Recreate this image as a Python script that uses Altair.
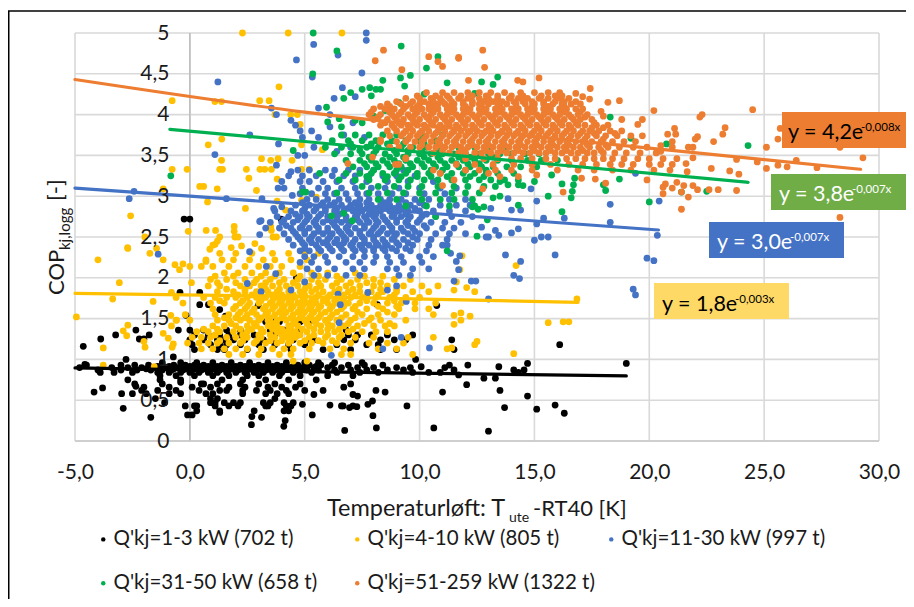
import altair as alt
import pandas as pd

FONT = "Lato"
NAMES = ["Q'kj=1-3 kW (702 t)", "Q'kj=4-10 kW (805 t)", "Q'kj=11-30 kW (997 t)",
         "Q'kj=31-50 kW (658 t)", "Q'kj=51-259 kW (1322 t)"]
COLORS = ["#000000", "#FFC000", "#4472C4", "#00B050", "#ED7D31"]
X_TICKS = [-5, 0, 5, 10, 15, 20, 25, 30]
Y_TICKS = [0, 0.5, 1, 1.5, 2, 2.5, 3, 3.5, 4, 4.5, 5]

black_rows = [
 (0.96, [-1.2,-0.4,0.3,1.0,1.8,2.6,3.4,4.2,5.0,5.6,6.3,7.5]),
 (0.93, [-4.5,-3.0,-2.4,-1.8,-1.2,-0.7,-0.2,0.2,0.6,1.0,1.4,1.8,2.2,2.6,3.0,3.4,3.8,4.2,4.7,5.2,5.7,6.2,6.9,7.6,8.4]),
 (0.915, [-1.4,-0.9,-0.4,0.0,0.5,0.8,1.2,1.6,2.0,2.4,2.8,3.2,3.6,4.0,4.5,5.0,5.5]),
 (0.90, [-4.8,-3.4,-2.7,-2.1,-1.5,-1.0,-0.5,-0.1,0.3,0.7,1.1,1.5,1.9,2.3,2.7,3.1,3.5,3.9,4.4,4.9,5.4,6.0,6.6,7.3,8.0,9.0,9.6]),
 (0.885, [-1.9,-0.7,-0.2,0.2,0.6,1.0,1.4,1.8,2.2,2.6,3.0,3.4,3.8,4.2,4.8]),
 (0.87, [-4.0,-3.0,-2.3,-1.7,-1.2,-0.8,-0.3,0.1,0.5,0.9,1.3,1.7,2.1,2.5,2.9,3.3,3.7,4.1,4.6,5.1,5.6,6.3,7.0,7.7,8.6,9.3]),
 (0.84, [-3.9,-3.3,-2.5,-1.4,-0.9,-0.4,0.0,0.4,0.8,1.2,1.6,2.0,2.4,2.8,3.2,3.6,4.0,4.5,5.3,6.4,7.4,8.2,9.7,10.4]),
 (0.80, [-1.3,-0.6,0.2,1.0,1.7,2.5,3.0,3.9,4.8,6.0,7.1]),
 (0.75, [-2.7,-1.3,-0.4,1.4,2.3,3.3,4.3,5.5]),
 (0.70, [-2.4,-1.2,0.6,1.2,2.2,3.0,3.7,4.8,7.0]),
 (0.66, [-2.0,-0.9,0.1,0.9,1.7,2.4,3.4,4.0,4.6,6.7]),
 (0.62, [-2.1,-1.4,-0.6,0.4,1.3,1.6,2.3,2.9,3.5,4.2,5.0]),
 (0.58, [-1.9,-0.9,-0.4,0.7,1.0,2.3,3.3,3.8,4.3]),
 (0.52, [-1.5,0.9,1.2,3.7]),
 (0.47, [-1.1,0.9,1.1,1.5,1.9,2.2,3.2,3.5,4.1,4.5]),
 (0.43, [-0.2,0.2,0.3,1.1,1.7,2.1,3.3,3.4,4.2,4.4,6.6,7.1]),
 (0.37, [0.3,1.3,2.8,4.1,4.3]),
 (1.12, [0.2,1.2,1.5,2.5,3.2,4.4,5.8,7.0,8.3,9.0,11.5]),
 (1.18, [0.1,0.9,1.3,1.6,2.2,3.0,3.7,4.3,5.0,6.4,7.7,8.2]),
 (1.24, [0.0,0.6,1.2,1.5,1.9,2.4,3.2,3.6,4.5,5.2,5.4,6.7,7.2,8.3,8.9,9.4,11.4]),
 (1.30, [0.2,0.8,1.3,1.7,2.2,2.8,3.7,4.7,6.9,7.3,7.9,8.6,9.7]),
 (1.36, [-0.5,0.0,0.6,1.6,2.2,3.5,4.1,4.8,6.8]),
 (1.46, [3.3,3.7,3.9,4.8,5.2]),
]
black_extra = [(19,0.95),(16.1,1.18),(14.7,0.95),(12.1,0.93),(13.45,0.91),(14.1,0.87),(14.3,0.84),(14.55,0.87),
 (12.8,0.77),(13.3,0.77),(12.05,0.69),(13.5,0.62),(14.7,0.55),(13.7,0.41),(15.1,0.39),(15.9,0.44),(16.3,0.34),(13,0.12),
 (11.3,0.93),(11.5,0.87),(11.7,0.81),(11.1,0.9),(10.9,0.84),
 (-4.64,1.16),(-3.88,1.25),(-3.23,1.3),(-2.35,1.36),(-2.2,1.25),(-2.0,1.25),(-1.77,1.3),(-2.78,1.0),(-0.72,1.03),(-4.57,0.94),
 (-0.43,1.82),(0.43,1.82),(0.43,1.67),(0.81,1.67),(-0.17,1.54),(1.3,1.61),(1.55,1.53),(2.97,1.66),(4.64,2.0),(8.16,1.67),(10.75,1.66),
 (-4.17,0.6),(-3.8,0.65),(-2.97,0.58),(-2.5,0.58),(-2.35,0.67),(-2.9,0.4),(-1.7,0.29),(2.68,0.2),(3.12,0.29),(4.09,0.18),(4.15,0.25),
 (5.33,0.32),(6.74,0.13),(8.12,0.16),(7.97,0.31),(10.62,0.16),(11,0.6),(9.45,0.43),(8.5,0.6),(8.1,0.62),(7.1,0.57),(7.3,0.55),(7.95,0.49),(7.75,0.45),(7.27,0.42),
 (6.95,0.41),(6.67,0.43),(6.1,0.44),(5.8,0.62),(5.4,0.57),(4.9,0.45),(9.83,1.0),(10.07,0.91),(-0.1,0.32),(0.1,0.32),(1.3,0.35),(2.7,0.3),
 (-0.25,2.72),(0.0,2.72),(3.97,2.72),(-0.4,0.72),(0.5,0.7)]

yellow_rows = [
 (2.30, [1.3,2.0,2.7,3.6,4.3,5.0,5.6]),
 (2.22, [0.7,1.4,1.9,2.6,3.2,3.7,4.4,5.1]),
 (2.14, [0.5,1.0,1.7,2.4,3.0,3.5,4.0,4.8]),
 (2.06, [1.5,2.1,2.7,3.3,3.9,4.5,5.3,6.0,7.2]),
 (2.02, [1.1,1.9,3.1,3.7,4.8,5.6,6.4,7.6,8.4]),
 (1.98, [0.9,1.6,2.4,2.9,3.5,4.1,4.7,5.3,5.9,6.6,7.3,8.0,8.9,9.6]),
 (1.94, [1.2,2.0,2.8,3.3,3.9,4.5,5.0,5.6,6.4,7.0,7.7,8.3]),
 (1.90, [0.8,1.3,2.2,2.6,3.1,3.6,4.2,4.7,5.2,5.7,6.2,6.8,7.4,8.0,8.6,9.3,10.1,10.8]),
 (1.86, [1.6,2.4,3.3,3.9,4.4,5.0,5.5,6.5,7.1,8.3,9.0]),
 (1.83, [1.2,1.9,2.4,2.9,3.4,3.8,4.3,4.8,5.3,5.8,6.3,6.9,7.4,7.9,8.4,9.0,9.7,10.4]),
 (1.79, [2.1,2.7,3.1,3.6,4.0,4.5,5.0,5.6,6.1,6.7,7.2,7.7,8.2,8.9]),
 (1.76, [-0.6,0.6,1.1,1.6,2.0,2.5,2.9,3.3,3.8,4.2,4.6,5.0,5.5,6.0,6.5,7.0,7.5,8.1,8.7,9.4,10.0]),
 (1.72, [1.3,2.3,3.1,3.6,4.0,4.4,4.9,5.3,5.8,6.3,6.7,7.7,8.9]),
 (1.69, [-0.3,0.9,1.5,2.2,2.6,3.0,3.5,3.9,4.3,4.7,5.1,5.5,6.0,6.4,6.9,7.4,8.0,8.6,9.2,9.8,10.7]),
 (1.65, [2.0,2.5,3.3,3.7,4.1,4.5,4.9,5.3,5.7,6.2,6.7,7.2,8.2,9.0]),
 (1.62, [1.0,1.9,2.4,2.8,3.2,3.6,4.0,4.4,4.8,5.2,5.6,6.1,6.6,7.1,7.7,8.4,9.1,9.8,10.4]),
 (1.58, [2.2,2.7,3.4,3.9,4.2,4.7,5.0,5.4,5.9,6.4,7.3,8.6]),
 (1.55, [-0.2,1.1,1.7,2.1,2.5,2.9,3.3,3.7,4.1,4.5,4.9,5.3,5.7,6.2,6.8,7.5,8.2,8.9,10.6]),
 (1.51, [1.5,2.0,2.4,3.1,3.5,4.0,4.4,4.8,5.2,5.6,6.1,6.6,7.2,7.9]),
 (1.48, [-0.6,0.0,1.2,1.7,2.2,2.6,3.0,3.4,3.8,4.2,4.6,5.0,5.4,5.9,6.4,7.0,7.8,8.3,9.4]),
 (1.44, [1.8,2.8,3.6,4.5,5.1,5.5,6.0,6.9,7.6,8.7]),
 (1.41, [-0.8,1.0,1.5,2.0,2.5,2.9,3.4,3.8,4.3,4.7,5.2,5.7,6.2,6.7,7.3,8.0,8.5,8.9]),
 (1.37, [0.6,1.2,2.2,2.7,3.1,3.6,4.0,4.4,4.9,5.4,6.0,6.5,7.1]),
 (1.34, [0.3,0.8,1.3,1.9,2.5,3.2,3.8,4.2,4.6,5.1,5.7,6.3,6.9,7.5,8.1,8.6]),
 (1.30, [1.1,2.3,3.0,3.5,4.0,4.4,4.8,5.4,6.0,6.6]),
 (1.27, [0.1,0.5,0.9,1.6,2.0,2.5,3.1,3.7,4.2,4.6,5.2,5.9,6.5,7.2,8.0,9.5,10.6]),
 (1.23, [1.3,2.3,2.9,3.5,4.0,4.4,5.0,5.6,6.2]),
 (1.20, [-0.1,0.4,0.8,1.2,1.7,2.2,2.8,3.3,3.8,4.3,4.8,5.3,5.8,6.4,7.0,7.8,8.6,9.3]),
 (1.13, [0.5,1.0,1.5,2.0,2.5,3.1,3.6,4.1,4.5,5.2,6.1,6.7,8.2,9.0,11.2]),
 (1.06, [1.7,2.3,3.0,3.9,4.4,6.6,7.0,9.7]),
 (0.98, [4.5,5.1]),
]
yellow_extra = [(-4.94,1.52),(-4.0,2.22),(-3.36,1.74),(-3.07,1.94),(-3.77,1.14),(-3.77,0.93),(-2.9,1.35),(-2.7,1.42),(-2.75,1.29),(-2.7,2.36),
 (-2,1.22),(-1.95,1.15),(-1.6,1.71),(-1.16,1.32),(-1.55,0.91),(-0.83,1.54),(-0.77,1.15),(-0.72,1.19),(-0.94,1.26),(-0.58,1.48),
 (-1.74,2.3),(-1.16,2.22),(-0.65,2.16),(-0.3,2.17),(0.0,2.14),(-0.45,2.1),(-0.8,1.82),(0.07,1.94),(0.7,2.2),(1.0,2.4),(1.2,2.45),
 (2.29,5),(4.28,5),(6.62,5),(3.88,4.34),(-0.77,4.17),(1.09,4.16),(1.38,4.16),(3.04,4.17),(3.45,4.17),(3.7,4.0),(4.39,4.0),(4.68,4.0),(4.8,3.88),
 (0.8,3.63),(1.39,3.7),(4.86,3.63),(5.77,3.57),(3.12,3.46),(3.52,3.44),(3.84,3.46),(4.45,3.44),(1.38,3.44),(-0.77,3.33),(-0.12,3.33),(1.3,3.33),(1.42,3.33),
 (2.46,3.33),(3.05,3.33),(3.26,3.33),(3.55,3.33),(4.86,3.33),(5.2,3.33),(2.57,3.22),(3.8,3.21),(0.43,3.12),(0.6,3.12),(1.19,3.09),(2.9,3.07),(-1.16,3.09),
 (0.77,2.93),(2.42,2.85),(3.8,2.94),(4.86,2.95),(4.17,2.83),(-2.58,2.76),(5.5,2.99),(-0.07,2.57),(0.71,2.58),(1.12,2.58),(1.93,2.63),(1.93,2.57),(1.96,2.5),(2.1,2.5),
 (1.3,2.5),(3.52,2.63),(3.55,2.58),(3.62,2.5),(3.77,2.5),(-1.96,2.5),(-2.71,2.37),(-1.45,2.36),(1.1,2.41),(0.87,2.35),(1.8,2.37),(2.25,2.39),(2.83,2.42),(3.12,2.36),
 (14.2,2.15),(11.85,2.27),(11.75,2.1),(11.6,1.95),(11.5,1.85),(12.05,1.88),(12.4,1.83),(16.85,1.74),(15.6,1.45),(16.25,1.46),(16.5,1.46),(11.5,1.54),(11.8,1.57),
 (12.2,1.53),(11.8,1.48),(11.5,1.43),(12.5,1.22),(12.4,1.18),(14.1,1.07),(11.4,1.14)]

blue_rows = [
 (3.32, [4.7,5.2,5.9,6.3,6.9,7.4,8.0,9.3]),
 (3.25, [4.3,4.9,5.5,6.2,6.7,7.2,7.8,8.4,9.0,9.8]),
 (3.18, [4.0,4.8,5.2,5.8,6.4,7.1,7.7,8.6,9.5,10.6]),
 (3.10, [4.1,4.9,5.6,6.0,6.6,7.2,7.9,8.5,9.1,10.0,10.9,11.6]),
 (3.03, [4.8,5.3,5.9,6.3,6.8,7.3,7.7,8.2,8.8,9.4,10.2,11.1]),
 (2.96, [5.1,5.5,6.0,6.5,6.9,7.4,7.8,8.3,8.7,9.2,9.8,10.4,11.3,12.0]),
 (2.92, [4.9,5.8,6.3,7.2,7.7,8.5,9.4,10.0]),
 (2.89, [4.6,5.2,5.7,6.1,6.6,7.0,7.4,7.9,8.3,8.7,9.1,9.6,10.2,10.9,11.6,12.2]),
 (2.85, [5.0,5.5,5.9,6.4,6.9,7.3,7.7,8.1,8.5,8.9,9.3,9.8]),
 (2.82, [4.4,4.9,5.4,5.9,6.3,6.7,7.1,7.5,7.9,8.3,8.7,9.1,9.5,10.0,10.6,11.3,12.0]),
 (2.78, [4.6,5.1,5.7,6.5,7.3,7.8,8.1,8.9,9.4,10.3]),
 (2.75, [3.8,4.3,4.8,5.2,5.6,6.0,6.4,6.8,7.2,7.6,8.0,8.4,8.8,9.2,9.6,10.1,10.7,11.4,12.3]),
 (2.71, [4.1,4.7,5.1,5.5,6.0,6.4,6.8,7.3,7.7,8.1,8.5,9.0,9.5,10.0]),
 (2.68, [3.5,4.0,4.5,5.0,5.4,5.8,6.2,6.6,7.0,7.4,7.8,8.2,8.6,9.0,9.4,9.9,10.5,11.1,11.8]),
 (2.64, [4.2,4.9,5.5,6.3,6.9,7.6,8.1,8.7,9.5,10.2]),
 (2.61, [3.3,3.9,4.4,4.8,5.2,5.6,6.0,6.4,6.8,7.2,7.6,8.0,8.4,8.8,9.2,9.7,10.3,11.0,11.5]),
 (2.57, [4.5,5.0,5.6,6.0,6.5,6.9,7.4,7.9,8.3,8.8,9.3,9.8]),
 (2.54, [4.1,4.6,5.0,5.4,5.8,6.2,6.6,7.0,7.4,7.8,8.2,8.6,9.0,9.5,10.0,10.7,11.3,12.0]),
 (2.50, [4.7,5.3,6.1,6.7,7.5,8.0,8.9,9.7]),
 (2.47, [4.3,4.8,5.2,5.6,6.0,6.4,6.8,7.2,7.6,8.0,8.4,8.8,9.3,9.9,10.5,11.2]),
 (2.43, [4.9,5.3,5.8,6.3,6.7,7.1,7.6,8.1,8.5,9.0,9.5]),
 (2.40, [4.5,5.0,5.5,6.0,6.5,7.0,7.4,7.8,8.2,8.6,9.1,9.7,10.4,11.0]),
 (2.36, [5.0,5.6,6.1,6.6,7.1,7.5,8.0,8.4,8.8,9.4]),
 (2.33, [4.8,5.2,5.7,6.2,6.7,7.2,7.6,8.0,8.5,9.0,9.6,10.3]),
 (2.26, [5.0,5.4,5.9,6.5,7.1,7.6,8.1,8.6,9.2,10.0,10.6]),
 (2.19, [4.8,5.3,6.0,6.8,7.4,8.0,8.7,9.3,10.1]),
 (2.11, [5.1,5.6,6.3,7.1,7.6,8.6,9.0,9.7,10.4]),
 (2.03, [5.4,6.0,6.8,7.4,9.1,9.6]),
]
blue_extra = [(7.68,5),(7.68,4.91),(5.39,4.86),(6.45,4.73),(4.64,4.67),(1.22,4.4),(5.33,4.46),(7.49,4.51),(6.64,4.33),(6.28,4.2),(7.2,4.22),
 (3.55,4.08),(3.77,4.0),(4.4,3.93),(2.61,3.75),(3.86,3.64),(1.09,3.51),(3.77,3.38),(-2.43,3.06),(-2.64,2.97),(1.59,2.97),(3.14,2.97),(3.84,3.1),(4.46,3.01),
 (3.65,2.85),(3.7,2.82),(4.0,2.87),(3.04,2.69),(3.1,2.7),(3.04,2.53),(4.6,3.87),(4.8,3.8),(4.9,3.72),(5.3,3.8),(5.6,3.72),(6.1,3.85),(6.7,3.75),(7.1,3.9),(5.4,3.6),(4.7,3.5),(5.0,3.5),(4.4,3.3),(6.4,3.55),(7.0,3.6),(7.6,3.72),(6.1,4.0),(5.6,4.08),
 (20.43,2.94),(20.35,2.52),(18.3,2.9),(18.3,2.68),(15.4,2.73),(15.1,2.66),(15.1,2.94),(14.85,3.09),(16.3,2.73),(15.6,2.5),(15.3,2.5),(15,2.46),(14.3,2.6),(14,2.55),
 (13.85,2.97),(14,2.83),(14.4,2.83),(13.1,2.85),(13.3,2.58),(13.45,2.52),(13,2.5),(12.7,2.62),(12.9,2.5),(12.3,2.9),(19.4,3.28),
 (13.74,2.28),(15.9,2.28),(14.4,2.2),(14.1,2.03),(14.35,1.99),(19.9,2.24),(20.2,2.21),(19.3,1.86),(19.4,1.79),(12.25,1.96),(12.45,1.96),(13,1.74),(11.5,1.96),
 (11.7,2.1),(11.6,2.2),(11.75,2.27),(11.2,2.4),(11.35,2.3),(-1.38,2.29),(2.6,2.32),(3.33,2.14),(2.5,1.93),(3.1,1.83),(3.74,2.05),(6.55,1.67),(6.5,1.45),(6.16,1.05),
 (8.4,1.13),(9.2,1.27),(10.43,1.14),(9.42,1.71),(7.75,1.82),(8.6,1.85),(6.45,1.8),(5.0,1.95),(4.4,1.85),(9.0,1.9)]

green_rows = [
 (3.75, [6.6,7.2,7.8,8.4,9.0,10.1,11.0]),
 (3.68, [6.2,6.9,7.5,8.1,8.8,9.4,10.0,10.7]),
 (3.64, [7.0,7.9,8.6,9.3,10.2]),
 (3.60, [5.9,6.6,7.1,7.7,8.2,8.7,9.2,9.7,10.3,11.0,11.7,12.4,13.1,13.8]),
 (3.56, [7.4,8.1,8.9,9.5,10.1,10.8]),
 (3.52, [6.3,7.0,7.5,8.0,8.5,9.0,9.5,10.0,10.5,11.0,11.5,12.0,12.5,13.0,13.5,14.0,14.6,15.2]),
 (3.48, [7.8,8.7,9.3,10.2,10.8,11.7,12.2,13.2]),
 (3.44, [6.8,7.4,7.9,8.4,8.9,9.4,9.9,10.4,10.9,11.4,11.9,12.4,12.9,13.4,14.0,14.7,15.3,16.0]),
 (3.40, [7.6,8.1,8.6,9.1,9.6,10.1,10.6,11.1,11.6,12.1,12.6]),
 (3.36, [7.1,7.7,8.2,8.7,9.2,9.7,10.2,10.7,11.2,11.7,12.2,12.7,13.2,13.8,14.4,15.1]),
 (3.32, [8.0,9.0,9.5,10.5,11.0,12.0,12.9]),
 (3.28, [6.8,7.4,7.9,8.4,8.9,9.4,9.9,10.4,10.9,11.4,11.9,12.4,12.9,13.4,14.1]),
 (3.24, [7.7,8.6,9.2,9.9,10.5,11.2,12.2,12.8]),
 (3.20, [6.5,7.2,7.8,8.5,9.1,9.6,10.2,10.8,11.4,12.0,12.6,13.1,13.7,14.3]),
 (3.12, [7.5,8.2,8.9,9.5,10.1,10.8,11.5,12.1,12.8,13.3]),
 (3.04, [6.4,7.8,8.6,9.3,10.0,10.7,11.4,12.0,12.6]),
 (2.96, [8.2,9.0,10.1,10.9,11.5,12.3]),
 (2.88, [9.4,10.3,11.3,12.4]),
]
green_extra = [(5.37,5),(9.2,4.84),(6.4,4.78),(10.8,4.71),(10.3,4.57),(5.35,4.5),(9.6,4.48),(8.4,4.42),(9.17,4.45),(7.83,4.33),(7.5,4.31),(7.9,4.23),(8.1,4.31),(8.3,4.31),
 (6.7,4.2),(7.0,4.27),(9.35,4.35),(10.2,4.25),(11.2,4.39),(12.7,4.40),(13.4,4.46),(13.2,4.37),(12.4,4.26),(12.9,4.17),(18.3,3.97),(19.2,3.71),(20.75,3.64),(24.3,3.62),
 (22.5,3.06),(21.4,3.05),(20.0,2.93),(18.1,3.07),(18,3.14),(18.7,3.21),(16.6,2.98),(16.65,3.06),(16.7,3.14),(16.75,3.22),(16.2,3.15),(15.6,3.0),(16.2,2.81),(15.75,3.26),
 (15.0,3.18),(14.5,3.13),(14.3,3.14),(13.85,3.14),(13.5,3.18),(14.3,2.89),(13.5,3.0),(13.2,2.98),(12.8,2.87),(12.55,2.84),(12.3,2.87),(12.95,2.71),(12.5,2.51),(11.2,2.33),
 (-0.83,3.25),(4.5,3.56),(4.9,3.05),(5.05,3.05),(5.65,3.28),(6.0,3.91),(5.95,4.09),(6.5,3.95),(6.6,3.85),(7.5,3.9),(7.2,3.93),(8.0,3.98),(8.5,4.05),(9.1,4.15),(6.17,2.76),(6.7,2.79),(7.07,2.7),(10.7,2.75)]

orange_rows = [
 (4.27, [10.3,11.0,11.5,12.1,12.6,13.1,13.7,14.4,15.0,15.6,16.1]),
 (4.23, [9.9,10.7,11.2,11.8,12.3,12.9,13.4,14.0,14.5,15.3,15.9]),
 (4.20, [9.4,10.0,10.5,10.9,11.3,11.7,12.1,12.6,13.0,13.4,13.9,14.3,14.7,15.2,15.6,16.1,16.5]),
 (4.16, [9.0,9.7,10.2,10.6,11.0,11.4,11.9,12.3,12.8,13.2,13.6,14.1,14.5,14.9,15.4,15.9,16.3,16.8]),
 (4.13, [8.6,9.2,9.6,10.0,10.4,10.8,11.1,11.5,11.9,12.3,12.6,13.0,13.4,13.8,14.2,14.6,15.0,15.4,15.8,16.2,16.6,17.0]),
 (4.10, [8.3,8.7,9.4,9.9,10.6,11.3,12.0,12.7,13.5,14.2,14.9,15.6,16.3]),
 (4.07, [8.0,8.5,8.9,9.3,9.7,10.1,10.4,10.8,11.2,11.5,11.9,12.2,12.6,12.9,13.3,13.6,14.0,14.3,14.7,15.0,15.4,15.7,16.1,16.4,16.8,17.1]),
 (4.03, [7.9,8.7,9.2,9.9,10.6,11.4,12.1,12.8,13.5,14.2,14.9,15.6,16.3,17.0]),
 (4.00, [7.8,8.3,8.8,9.1,9.5,9.8,10.2,10.5,10.9,11.2,11.6,11.9,12.3,12.6,13.0,13.3,13.7,14.0,14.4,14.7,15.1,15.4,15.8,16.1,16.5,16.9,17.3]),
 (3.97, [8.2,8.9,9.6,10.3,11.0,11.7,12.4,13.1,13.8,14.5,15.2,15.9,16.6,17.2]),
 (3.94, [8.0,8.6,9.0,9.3,9.7,10.0,10.4,10.7,11.1,11.4,11.8,12.1,12.5,12.8,13.2,13.5,13.9,14.2,14.6,14.9,15.3,15.6,16.0,16.3,16.7,17.0,17.5]),
 (3.90, [8.5,9.1,9.8,10.5,11.2,11.9,12.6,13.3,14.0,14.7,15.4,16.1,16.8,17.6]),
 (3.87, [8.3,8.8,9.2,9.5,9.9,10.2,10.6,10.9,11.3,11.6,12.0,12.3,12.7,13.0,13.4,13.7,14.1,14.4,14.8,15.1,15.5,15.8,16.2,16.5,16.9,17.2,17.7,18.2]),
 (3.84, [8.9,9.6,10.3,11.0,11.7,12.4,13.1,13.8,14.5,15.2,15.9,16.6,17.5,18.0]),
 (3.80, [8.6,9.0,9.4,9.7,10.1,10.4,10.8,11.1,11.5,11.8,12.2,12.5,12.9,13.2,13.6,13.9,14.3,14.6,15.0,15.3,15.7,16.0,16.4,16.7,17.1,17.4,17.8,18.3,18.8]),
 (3.77, [9.3,10.0,10.7,11.4,12.1,12.8,13.5,14.2,14.9,15.6,16.3,17.0,17.6,18.5]),
 (3.74, [8.7,9.2,9.6,9.9,10.3,10.6,11.0,11.3,11.7,12.0,12.4,12.7,13.1,13.4,13.8,14.1,14.5,14.8,15.2,15.5,15.9,16.2,16.6,16.9,17.3,17.7,18.1,18.6,19.2,19.7]),
 (3.70, [9.5,10.2,10.9,11.6,12.3,13.0,13.7,14.4,15.1,15.8,16.5,17.2,18.0]),
 (3.67, [8.3,9.0,9.4,9.8,10.1,10.5,10.8,11.2,11.5,11.9,12.2,12.6,12.9,13.3,13.6,14.0,14.3,14.7,15.0,15.4,15.7,16.1,16.4,16.8,17.1,17.5,17.9,18.4,18.9,19.4]),
 (3.63, [10.1,10.9,11.6,12.3,13.0,13.7,14.4,15.1,15.8,16.5,17.3,18.1]),
 (3.60, [9.6,10.0,10.4,10.7,11.1,11.4,11.8,12.1,12.5,12.8,13.2,13.5,13.9,14.2,14.6,14.9,15.3,15.6,16.0,16.3,16.7,17.0,17.4,17.8,18.2,18.7,19.3,19.9]),
 (3.56, [11.0,11.9,12.9,13.6,14.3,15.0,15.7,16.4,17.1,17.9]),
 (3.53, [10.6,11.3,11.7,12.0,12.4,12.7,13.1,13.4,13.8,14.1,14.5,14.8,15.2,15.5,15.9,16.2,16.6,16.9,17.3,17.6,18.0,18.5,19.0,19.6,20.3]),
 (3.46, [9.4,12.0,12.8,13.4,14.0,14.4,14.9,15.5,15.9,16.4,16.8,17.2,17.6,18.0,18.4,18.9,19.5,20.0,20.6,21.2]),
 (3.39, [8.95,9.1,11.6,12.4,13.2,14.1,14.9,15.7,16.5,17.1,17.7,18.3,18.8,19.3,20.0,20.5,21.0]),
 (3.32, [10.6,12.0,12.6,13.3,14.0,14.9,16.0,16.9,17.6,18.4,19.2,20.2,20.9]),
]
orange_extra = [(8.43,4.79),(8.07,4.66),(9.23,4.55),(10.4,4.71),(10.8,4.65),(11,4.59),(11.7,4.69),(12.75,4.79),(11.7,4.70),(12.83,4.58),(15.2,4.45),(14.27,4.42),(14.5,4.40),
 (12.13,4.42),(17.43,4.32),(16.8,4.26),(17.1,4.22),(17.4,4.19),(16.2,4.23),(18.2,4.15),(18.7,4.17),(20.2,4.05),(17.9,4.04),(18.0,3.98),(18.8,3.94),(19.7,3.94),(19.5,3.88),
 (22.3,4.0),(22.2,3.97),(24.5,4.06),(23.3,3.84),(23.2,3.76),(22.8,3.67),(25.7,3.83),(25.6,3.70),(25.1,3.60),(21.1,3.83),(21.15,3.76),(20.8,3.76),(22.1,3.73),(22.0,3.70),(21.0,3.67),
 (21.0,3.6),(21.7,3.60),(21.9,3.6),(20.5,3.62),(20.5,3.55),(28.3,3.60),(29.3,3.47),(26.4,3.44),(25.6,3.38),(26.0,3.36),(27.3,3.35),(25.1,3.34),(24.7,3.42),(23.8,3.45),(22.7,3.34),
 (23.5,3.31),(23.9,3.27),(21.9,3.47),(21.6,3.4),(21.65,3.30),(21.9,3.13),(21.5,3.13),(23.8,3.07),(23.0,3.08),(22.6,3.08),(22.1,3.08),(21.4,3.05),(21.7,2.99),(21.4,2.84),(20.6,3.03),
 (28.3,2.74),(21.0,3.1),(20.6,3.11),(21.2,3.17),(20.7,3.15),(19.9,3.2),(16.25,3.05),(15.1,3.26),(14.3,3.24),(13.5,3.24),(13.0,3.28),(12.75,3.09),(17.65,3.21),(17.05,3.22),(18.1,3.16),
 (6.88,3.40),(9.4,3.47),(10.9,3.28),(11.5,3.2),(11.0,3.13),(7.95,3.48),(8.3,3.69),(8.7,3.6),(9.1,3.6)]

trend_x = [[-5,5,19],[-5,5,16.9],[-5,5,10,20.4],[-0.87,5,10,24.3],[-5,5,15,29.2]]
trend_y = [[0.895,0.85,0.797],[1.81,1.77,1.70],[3.10,2.90,2.80,2.586],[3.82,3.67,3.54,3.17],[4.43,4.03,3.73,3.33]]

eq_main = ["y = 4,2e", "y = 3,8e", "y = 3,0e", "y = 1,8e"]
eq_sup = ["-0,008x", "-0,007x", "-0,007x", "-0,003x"]
eq_fill = ["#ED7D31", "#70AD47", "#4472C4", "#FFD966"]
eq_ink = ["#000000", "#FFFFFF", "#FFFFFF", "#000000"]
eq_box = [(782,906,112,148),(771,906,174,210),(709,844,222,258),(654,789,283,319)]
eq_text_x = [(788,861),(779,852),(717,790),(662,735)]
eq_base = [139,201,249,311]

OX, OY = 75, 33   # page position of the plot area
W, H = 804, 408

rows = []
all_rows = [black_rows, yellow_rows, blue_rows, green_rows, orange_rows]
all_extra = [black_extra, yellow_extra, blue_extra, green_extra, orange_extra]
for i, name in enumerate(NAMES):
    for y, xs in all_rows[i]:
        rows += [{"x": x, "y": y, "s": name, "o": i} for x in xs]
    rows += [{"x": x, "y": y, "s": name, "o": i} for x, y in all_extra[i]]
df = pd.DataFrame(rows).sort_values("o", kind="stable")

xs = alt.Scale(domain=[-5, 30], nice=False, zero=False)
ys = alt.Scale(domain=[0, 5], nice=False, zero=False)
num = "replace(replace(format(datum.value,'.1f'),'.',','),'\u2212','-')"
num2 = "replace(format(datum.value,'.1~f'),'.',',')"
x_axis = alt.Axis(title=None, values=X_TICKS, labelExpr=num, grid=False, labelFlush=False, labelOverlap=False,
            ticks=False, domain=False, labelFont=FONT, labelFontSize=21,
            labelColor="#1a1a1a", labelPadding=20, zindex=1)
y_axis = alt.Axis(title=None, values=Y_TICKS, labelExpr=num2, grid=False, labelFlush=False, labelOverlap=False,
            ticks=False, domain=False, labelFont=FONT, labelFontSize=21,
            labelColor="#1a1a1a", labelPadding=21, offset=-115, zindex=1)
X = alt.X("x:Q", scale=xs, axis=x_axis)
Y = alt.Y("y:Q", scale=ys, axis=y_axis)

base = alt.Chart(df).mark_circle(size=46, opacity=1).encode(
    x=X, y=Y,
    color=alt.Color("s:N", sort=NAMES, scale=alt.Scale(domain=NAMES, range=COLORS),
        legend=alt.Legend(title=None, orient="none", legendX=18, legendY=496, columns=3, gridAlign="all", direction="horizontal",
            symbolType="circle", symbolSize=20, symbolOpacity=1, labelFont=FONT, labelFontSize=20.5, labelColor="#1a1a1a",
            labelOffset=0, rowPadding=23, columnPadding=5, padding=0, labelLimit=300)),
    order=alt.Order("o:Q"),
)

blank = alt.Data(values=[{"a": 0}])
grid_v = alt.Chart(pd.DataFrame({"x": X_TICKS})).mark_rule(color="#d9d9d9", strokeWidth=1.6).encode(x=X)
grid_h = alt.Chart(pd.DataFrame({"y": Y_TICKS})).mark_rule(color="#d9d9d9", strokeWidth=1.6).encode(y=Y)
axis_x0 = alt.Chart(pd.DataFrame({"x": [0]})).mark_rule(color="#bfbfbf", strokeWidth=1.6).encode(x=X)
axis_y0 = alt.Chart(pd.DataFrame({"y": [0]})).mark_rule(color="#c8c8c8", strokeWidth=1.6).encode(y=Y)
layers = [grid_v, grid_h, axis_x0, axis_y0, base]

for i in range(5):
    d = pd.DataFrame({"x": trend_x[i], "y": trend_y[i]})
    layers.append(alt.Chart(d).mark_line(color=COLORS[i], strokeWidth=3.2, interpolate="monotone", strokeCap="round").encode(x=X, y=Y))

def text(x, y, s, size, color="#1a1a1a", angle=0):
    return alt.Chart(blank).mark_text(font=FONT, fontSize=size, align="left", baseline="alphabetic", color=color, angle=angle).encode(
        x=alt.value(x - OX), y=alt.value(y - OY), text=alt.value(s))

for i in range(4):
    x0, x1, y0, y1 = eq_box[i]
    layers.append(alt.Chart(blank).mark_rect(color=eq_fill[i]).encode(
        x=alt.value(x0 - OX), x2=alt.value(x1 - OX), y=alt.value(y0 - OY), y2=alt.value(y1 - OY)))
    layers.append(text(eq_text_x[i][0], eq_base[i], eq_main[i], 21.5, eq_ink[i]))
    layers.append(text(eq_text_x[i][1], eq_base[i] - 8, eq_sup[i], 11.5, eq_ink[i]))

# axis titles with subscripts
layers += [
    text(327, 516, "Temperaturløft: T", 23.5),
    text(509, 522, "ute", 14),
    text(533, 516, "-RT40 [K]", 22),
    text(64, 295, "COP", 22, angle=270),
    text(70, 250, "kj,logg", 15, angle=270),
    text(63, 201, "[-]", 22, angle=270),
]
# outer frame of the chart
layers += [
    alt.Chart(blank).mark_rule(color="#000000", strokeWidth=2).encode(
        x=alt.value(8.5 - OX), y=alt.value(11 - OY), y2=alt.value(607 - OY)),
    alt.Chart(blank).mark_rule(color="#000000", strokeWidth=1.5).encode(
        x=alt.value(8 - OX), x2=alt.value(914 - OX), y=alt.value(11 - OY)),
]

chart = alt.layer(*layers).properties(
    width=W, height=H,
    padding={"left": 67, "top": 25, "right": 27, "bottom": 158},
    autosize=alt.AutoSizeParams(type="none", contains="content"),
    background="white",
).configure_view(stroke=None)

chart.save("out.html", embed_options={"renderer": "svg", "actions": False})
